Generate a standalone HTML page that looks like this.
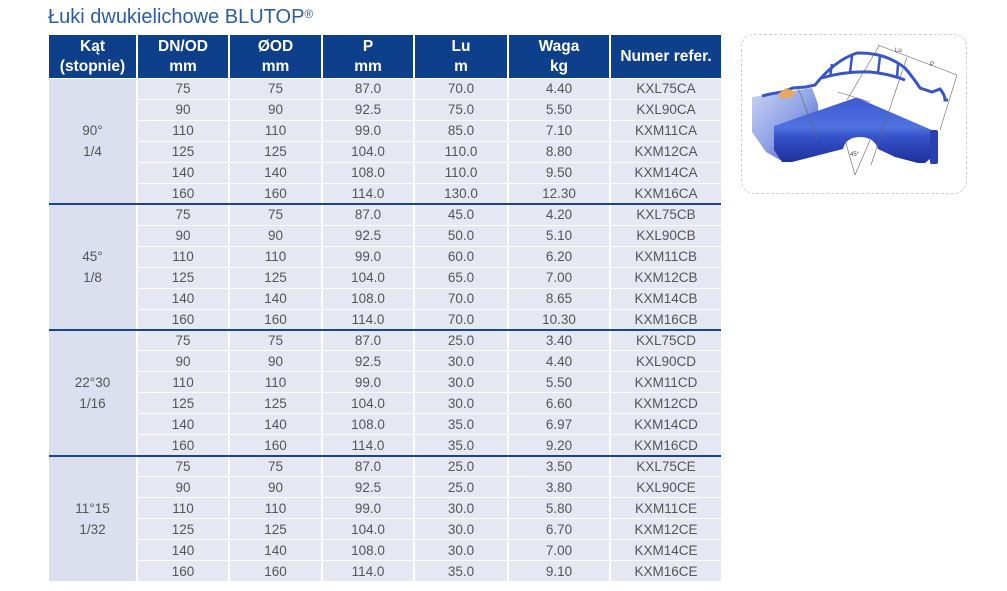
<!DOCTYPE html>
<html>
<head>
<meta charset="utf-8">
<style>
html,body{margin:0;padding:0;background:#fff;}
body{width:1007px;height:591px;position:relative;overflow:hidden;font-family:"Liberation Sans",Arial,sans-serif;}
.title{position:absolute;left:48px;top:2px;font-size:20px;letter-spacing:0px;color:#2a5ca8;white-space:nowrap;line-height:30px;}
.title sup{font-size:12px;vertical-align:top;position:relative;top:-3px;}
.grid{position:absolute;left:49px;top:35px;width:672px;height:546px;background:#fff;display:grid;
grid-template-columns:87px 90px 91px 90px 92px 100px 110px;column-gap:2px;row-gap:1px;
grid-template-rows:43px repeat(24,1fr);}
.h{background:#0e3f8b;color:#fff;font-weight:bold;font-size:15.5px;line-height:20px;display:flex;align-items:center;justify-content:center;text-align:center;}
.c{background:#e5e7f3;color:#555;font-size:13.5px;display:flex;align-items:center;justify-content:center;}
.g{background:#dcdfee;color:#555;font-size:13.5px;line-height:21px;display:flex;align-items:center;justify-content:center;text-align:center;grid-row:span 6;grid-column:1;}
.ln{position:absolute;left:49px;width:672px;height:2px;background:#1d4483;}
.box{position:absolute;left:741px;top:34px;width:226px;height:160px;border:1.5px dashed #cfcfcf;border-radius:13px;box-sizing:border-box;}
svg{position:absolute;left:0;top:0;}
</style>
</head>
<body>
<div class="title">Łuki dwukielichowe BLUTOP<sup>®</sup></div>

<div class="grid">
<div class="h">Kąt<br>(stopnie)</div><div class="h">DN/OD<br>mm</div><div class="h">ØOD<br>mm</div><div class="h">P<br>mm</div><div class="h">Lu<br>m</div><div class="h">Waga<br>kg</div><div class="h">Numer refer.</div>

<div class="g">90°<br>1/4</div>
<div class="c">75</div><div class="c">75</div><div class="c">87.0</div><div class="c">70.0</div><div class="c">4.40</div><div class="c">KXL75CA</div>
<div class="c">90</div><div class="c">90</div><div class="c">92.5</div><div class="c">75.0</div><div class="c">5.50</div><div class="c">KXL90CA</div>
<div class="c">110</div><div class="c">110</div><div class="c">99.0</div><div class="c">85.0</div><div class="c">7.10</div><div class="c">KXM11CA</div>
<div class="c">125</div><div class="c">125</div><div class="c">104.0</div><div class="c">110.0</div><div class="c">8.80</div><div class="c">KXM12CA</div>
<div class="c">140</div><div class="c">140</div><div class="c">108.0</div><div class="c">110.0</div><div class="c">9.50</div><div class="c">KXM14CA</div>
<div class="c">160</div><div class="c">160</div><div class="c">114.0</div><div class="c">130.0</div><div class="c">12.30</div><div class="c">KXM16CA</div>

<div class="g">45°<br>1/8</div>
<div class="c">75</div><div class="c">75</div><div class="c">87.0</div><div class="c">45.0</div><div class="c">4.20</div><div class="c">KXL75CB</div>
<div class="c">90</div><div class="c">90</div><div class="c">92.5</div><div class="c">50.0</div><div class="c">5.10</div><div class="c">KXL90CB</div>
<div class="c">110</div><div class="c">110</div><div class="c">99.0</div><div class="c">60.0</div><div class="c">6.20</div><div class="c">KXM11CB</div>
<div class="c">125</div><div class="c">125</div><div class="c">104.0</div><div class="c">65.0</div><div class="c">7.00</div><div class="c">KXM12CB</div>
<div class="c">140</div><div class="c">140</div><div class="c">108.0</div><div class="c">70.0</div><div class="c">8.65</div><div class="c">KXM14CB</div>
<div class="c">160</div><div class="c">160</div><div class="c">114.0</div><div class="c">70.0</div><div class="c">10.30</div><div class="c">KXM16CB</div>

<div class="g">22°30<br>1/16</div>
<div class="c">75</div><div class="c">75</div><div class="c">87.0</div><div class="c">25.0</div><div class="c">3.40</div><div class="c">KXL75CD</div>
<div class="c">90</div><div class="c">90</div><div class="c">92.5</div><div class="c">30.0</div><div class="c">4.40</div><div class="c">KXL90CD</div>
<div class="c">110</div><div class="c">110</div><div class="c">99.0</div><div class="c">30.0</div><div class="c">5.50</div><div class="c">KXM11CD</div>
<div class="c">125</div><div class="c">125</div><div class="c">104.0</div><div class="c">30.0</div><div class="c">6.60</div><div class="c">KXM12CD</div>
<div class="c">140</div><div class="c">140</div><div class="c">108.0</div><div class="c">35.0</div><div class="c">6.97</div><div class="c">KXM14CD</div>
<div class="c">160</div><div class="c">160</div><div class="c">114.0</div><div class="c">35.0</div><div class="c">9.20</div><div class="c">KXM16CD</div>

<div class="g">11°15<br>1/32</div>
<div class="c">75</div><div class="c">75</div><div class="c">87.0</div><div class="c">25.0</div><div class="c">3.50</div><div class="c">KXL75CE</div>
<div class="c">90</div><div class="c">90</div><div class="c">92.5</div><div class="c">25.0</div><div class="c">3.80</div><div class="c">KXL90CE</div>
<div class="c">110</div><div class="c">110</div><div class="c">99.0</div><div class="c">30.0</div><div class="c">5.80</div><div class="c">KXM11CE</div>
<div class="c">125</div><div class="c">125</div><div class="c">104.0</div><div class="c">30.0</div><div class="c">6.70</div><div class="c">KXM12CE</div>
<div class="c">140</div><div class="c">140</div><div class="c">108.0</div><div class="c">30.0</div><div class="c">7.00</div><div class="c">KXM14CE</div>
<div class="c">160</div><div class="c">160</div><div class="c">114.0</div><div class="c">35.0</div><div class="c">9.10</div><div class="c">KXM16CE</div>
</div>

<div class="ln" style="top:203px"></div>
<div class="ln" style="top:329px"></div>
<div class="ln" style="top:455px"></div>

<div class="box"></div>
<svg width="1007" height="591" viewBox="0 0 1007 591">
<defs>
<linearGradient id="lp" x1="0" y1="0" x2="1" y2="1">
<stop offset="0" stop-color="#c9d3f2"/><stop offset="0.5" stop-color="#8fa3e6"/><stop offset="1" stop-color="#3e4fc0"/>
</linearGradient>
<linearGradient id="el" x1="0" y1="0" x2="0" y2="1">
<stop offset="0" stop-color="#3c5ad2"/><stop offset="0.45" stop-color="#4f72e0"/><stop offset="0.6" stop-color="#3552c8"/><stop offset="1" stop-color="#1d2f9a"/>
</linearGradient>
</defs>
<!-- light pipe -->
<polygon points="752,97 812,88 818,104 819,122 780,160 766,152 752,132" fill="url(#lp)"/>
<!-- elbow body -->
<path d="M774,126 L852,99 Q856,97 860,99 L934,131 L936,154 L925,163 L918,163 L895,157 L878,149 Q874,137 860,137 Q846,137 843,149 L792,162 L782,162 L774,150 Z" fill="url(#el)"/>
<rect x="930" y="130" width="8" height="34" rx="2" fill="#2a3fb0"/>
<!-- top profile -->
<path d="M762,96 L770,94 L782,92 L793,88 L806,87 L815,85 Q835,60 857,53 Q885,52 905,68 Q915,80 920,88 L932,92 L940,89 Q945,95 945,100 L948,100" fill="none" stroke="#3a55c8" stroke-width="3"/>
<path d="M822,78 Q845,71 870,72 Q890,74 905,80" fill="none" stroke="#3a55c8" stroke-width="3"/>
<path d="M830,77 L832,64 M850,73 L852,56 M878,73 L880,56 M897,78 L898,64" stroke="#3a55c8" stroke-width="2.5"/>
<polygon points="778,94 786,88 796,92 790,98 780,98" fill="#e8a860"/>
<!-- dimension lines -->
<g stroke="#666" stroke-width="0.6" fill="none">
<line x1="878" y1="45" x2="957" y2="75"/>
<line x1="879" y1="46" x2="847" y2="100"/>
<line x1="907" y1="57" x2="871" y2="165"/>
<line x1="957" y1="75" x2="940" y2="130"/>
<line x1="855" y1="175" x2="845" y2="140"/>
<line x1="855" y1="175" x2="870" y2="140"/>
<line x1="838" y1="92" x2="870" y2="102"/>
<line x1="798" y1="88" x2="818" y2="140"/>
</g>
<text x="895" y="52" font-size="6" fill="#444" font-family="Liberation Sans, sans-serif">Lu</text>
<text x="930" y="66" font-size="6" fill="#444" font-family="Liberation Sans, sans-serif">P</text>
<text x="850" y="156" font-size="6" fill="#444" font-family="Liberation Sans, sans-serif">45°</text>
</svg>
</body>
</html>
